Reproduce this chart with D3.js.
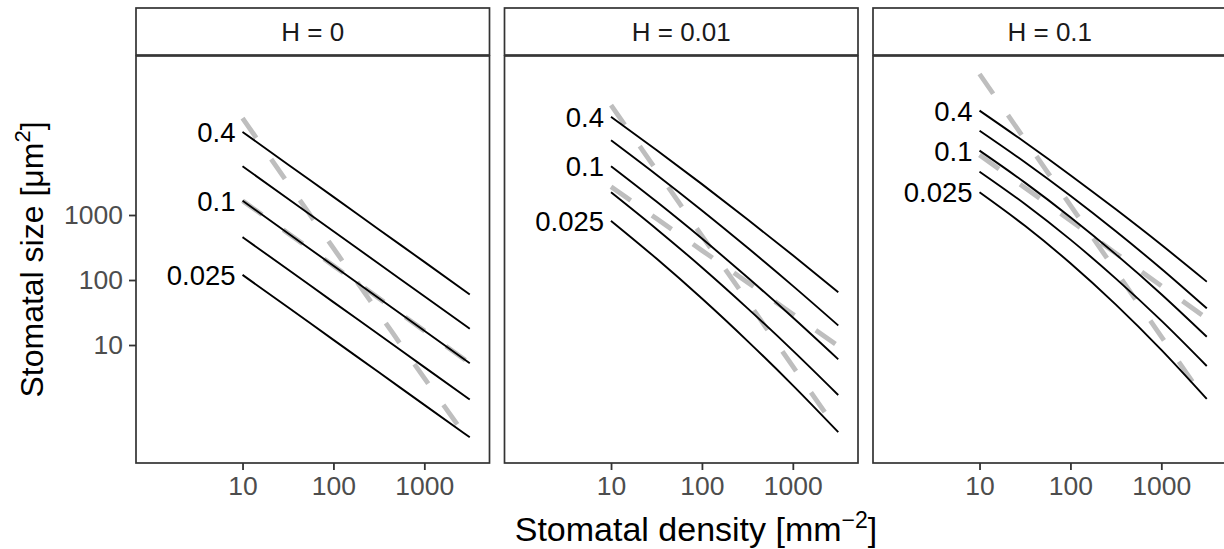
<!DOCTYPE html>
<html><head><meta charset="utf-8">
<script src="https://cdn.jsdelivr.net/npm/d3@7"></script>
<style>body{margin:0;background:#fff} svg{display:block} text{font-family:"Liberation Sans",Arial,Helvetica,sans-serif}</style>
</head><body><svg id="chart" width="1224" height="549"></svg>
<script>
// ---- data ----
const panelLabels = ["H = 0", "H = 0.01", "H = 0.1"];
const levels = ["0.4", "0.2", "0.1", "0.05", "0.025"];
const labelledLevels = ["0.4", "0.1", "0.025"];
const density = [10, 31.6, 100, 316, 1000, 3162];           // stomatal density [mm^-2]
const xTickValues = [10, 100, 1000];
const yTickValues = [10, 100, 1000];
// stomatal size [um^2], one row per level (0.4, 0.2, 0.1, 0.05, 0.025)
const sizeH0 = [
  [19000, 6000, 1900, 600, 190, 60],
  [5620, 1780, 562, 178, 56.2, 17.8],
  [1660, 525, 166, 52.5, 16.6, 5.25],
  [457, 145, 45.7, 14.5, 4.57, 1.45],
  [120, 38, 12, 3.8, 1.2, 0.38]
];
const sizeH001 = [
  [32400, 10000, 2985, 861, 240, 64.6],
  [14130, 4170, 1175, 316, 81.3, 20.0],
  [5620, 1607, 434, 110, 26.5, 6.03],
  [2240, 611, 156, 37.0, 8.20, 1.70],
  [813, 214, 51.9, 11.6, 2.40, 0.457]
];
const sizeH01 = [
  [40300, 13150, 4100, 1222, 348, 94.2],
  [19800, 6470, 1972, 561, 149, 36.6],
  [9770, 3150, 925, 248, 60.5, 13.4],
  [4645, 1476, 418, 105, 23.7, 4.75],
  [2234, 681, 181, 41.8, 8.41, 1.48]
];
// grey dashed reference lines (steep, shallow) per panel
const dashH0 = [
  [30900, 3090, 309, 30.9, 3.09, 0.324],
  [1660, 525, 166, 52.5, 16.6, 5.25]
];
const dashH001 = [
  [49000, 4900, 479, 47.9, 4.68, 0.468],
  [2720, 881, 285, 92.3, 29.9, 9.66]
];
const dashH01 = [
  [147600, 14420, 1409, 137.7, 13.5, 1.315],
  [8375, 2630, 824, 257, 81.3, 25.7]
];

const panelLines = [sizeH0, sizeH001, sizeH01];
const panelDashes = [dashH0, dashH001, dashH01];

// ---- layout ----
const svg = d3.select("#chart");
const panelLeft0 = 136, panelW = 353.5, panelGap = 15;
const panelTop = 56, panelBottom = 463, stripTop = 8;
const borderCol = "#333333";

const y = d3.scaleLog().domain([Math.pow(10, -0.815), Math.pow(10, 5.446)]).range([panelBottom, panelTop]);

panelLabels.forEach((lab, i) => {
  const left = panelLeft0 + i * (panelW + panelGap);
  const x = d3.scaleLog().domain([Math.pow(10, -0.172), Math.pow(10, 3.717)]).range([left, left + panelW]);
  const g = svg.append("g");

  // strip
  g.append("rect").attr("x", left).attr("y", stripTop).attr("width", panelW).attr("height", panelTop - stripTop - 1)
    .attr("fill", "#fff").attr("stroke", borderCol).attr("stroke-width", 1.7);
  g.append("text").attr("x", left + panelW / 2).attr("y", 40.5).attr("text-anchor", "middle")
    .attr("font-size", 26).attr("fill", "#1a1a1a").text(lab);

  const line = d3.line().curve(d3.curveMonotoneX).x((d, k) => x(density[k])).y(d => y(d));

  // dashed grey lines
  panelDashes[i].forEach(arr => {
    g.append("path").attr("d", line(arr)).attr("fill", "none").attr("stroke", "#BEBEBE")
      .attr("stroke-width", 4.8).attr("stroke-dasharray", "24 26");
  });
  // black lines
  panelLines[i].forEach((arr, j) => {
    g.append("path").attr("d", line(arr)).attr("fill", "none").attr("stroke", "#000")
      .attr("stroke-width", 1.9);
    if (labelledLevels.includes(levels[j])) {
      g.append("text").attr("x", x(density[0]) - 7).attr("y", y(arr[0]))
        .attr("dy", "0.36em").attr("text-anchor", "end").attr("font-size", 27.5).attr("fill", "#000")
        .text(levels[j]);
    }
  });

  // panel border
  g.append("rect").attr("x", left).attr("y", panelTop).attr("width", panelW).attr("height", panelBottom - panelTop)
    .attr("fill", "none").attr("stroke", borderCol).attr("stroke-width", 1.7);

  // x axis
  const xa = g.append("g").attr("transform", `translate(0,${panelBottom})`)
    .call(d3.axisBottom(x).tickValues(xTickValues).tickFormat(d3.format("d")).tickSize(7).tickPadding(6));
  xa.select(".domain").remove();
  xa.selectAll(".tick line").attr("stroke", borderCol).attr("stroke-width", 1.8);
  xa.selectAll(".tick text").attr("font-size", 26.5).attr("fill", "#4d4d4d").attr("font-family", null);

  if (i === 0) {
    const ya = g.append("g").attr("transform", `translate(${left},0)`)
      .call(d3.axisLeft(y).tickValues(yTickValues).tickFormat(d3.format("d")).tickSize(7).tickPadding(6));
    ya.select(".domain").remove();
    ya.selectAll(".tick line").attr("stroke", borderCol).attr("stroke-width", 1.8);
    ya.selectAll(".tick text").attr("font-size", 26.5).attr("fill", "#4d4d4d").attr("font-family", null);
  }
});

// axis titles
const xt = svg.append("text").attr("x", 696).attr("y", 541).attr("text-anchor", "middle").attr("font-size", 34).attr("fill", "#000");
xt.append("tspan").text("Stomatal density [mm");
xt.append("tspan").attr("dy", -13).attr("font-size", 23).text("\u22122");
xt.append("tspan").attr("dy", 13).text("]");

const yt = svg.append("text").attr("transform", "translate(43,259.5) rotate(-90)").attr("text-anchor", "middle")
  .attr("font-size", 32).attr("fill", "#000");
yt.append("tspan").text("Stomatal size [\u03bcm");
yt.append("tspan").attr("dy", -13).attr("font-size", 22).text("2");
yt.append("tspan").attr("dy", 13).text("]");
</script></body></html>
